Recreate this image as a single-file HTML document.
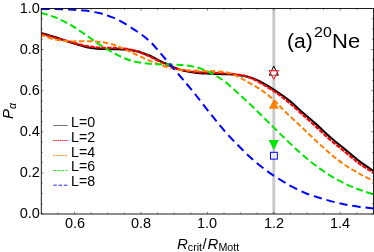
<!DOCTYPE html>
<html><head><meta charset="utf-8"><title>chart</title>
<style>
html,body{margin:0;padding:0;background:#fff;}
body{width:374px;height:252px;position:relative;overflow:hidden;font-family:"Liberation Sans",sans-serif;color:#000;}
.t{position:absolute;white-space:nowrap;line-height:1;will-change:transform;}
.r{text-align:right;}
</style></head><body>
<svg width="374" height="252" viewBox="0 0 374 252" style="position:absolute;left:0;top:0">
<rect x="0" y="0" width="374" height="252" fill="#fff"/>
<clipPath id="c"><rect x="41.3" y="8.0" width="332.7" height="206.5"/></clipPath>
<line x1="273.8" y1="8.5" x2="273.8" y2="214.0" stroke="#c9c9c9" stroke-width="2.9"/>
<g clip-path="url(#c)" fill="none" stroke-linecap="butt" stroke-linejoin="round">
<path d="M41.40,33.00C43.67,33.68 50.23,35.55 55.00,37.10C59.77,38.65 65.00,40.70 70.00,42.30C75.00,43.90 81.25,45.73 85.00,46.70C88.75,47.67 90.00,47.73 92.50,48.10C95.00,48.47 96.25,48.73 100.00,48.90C103.75,49.07 110.83,49.00 115.00,49.10C119.17,49.20 121.67,49.20 125.00,49.50C128.33,49.80 132.08,50.33 135.00,50.90C137.92,51.47 140.00,52.08 142.50,52.90C145.00,53.72 146.25,54.07 150.00,55.80C153.75,57.53 160.00,60.98 165.00,63.30C170.00,65.62 175.00,68.15 180.00,69.70C185.00,71.25 190.00,71.95 195.00,72.60C200.00,73.25 205.00,73.33 210.00,73.60C215.00,73.87 220.83,74.00 225.00,74.20C229.17,74.40 231.67,74.48 235.00,74.80C238.33,75.12 242.08,75.53 245.00,76.10C247.92,76.67 250.00,77.30 252.50,78.20C255.00,79.10 256.25,79.47 260.00,81.50C263.75,83.53 270.00,87.13 275.00,90.40C280.00,93.67 285.83,97.80 290.00,101.10C294.17,104.40 295.83,106.53 300.00,110.20C304.17,113.87 310.00,118.63 315.00,123.10C320.00,127.57 325.00,132.63 330.00,137.00C335.00,141.37 340.00,145.20 345.00,149.30C350.00,153.40 355.23,157.98 360.00,161.60C364.77,165.22 371.33,169.43 373.60,171.00" stroke="#000000" stroke-width="2.1"/>
<path d="M41.40,33.90C43.67,34.53 50.23,36.38 55.00,37.70C59.77,39.02 65.00,40.45 70.00,41.80C75.00,43.15 80.00,44.83 85.00,45.80C90.00,46.77 95.00,47.25 100.00,47.60C105.00,47.95 110.83,47.72 115.00,47.90C119.17,48.08 121.67,48.23 125.00,48.70C128.33,49.17 132.08,49.92 135.00,50.70C137.92,51.48 140.00,52.40 142.50,53.40C145.00,54.40 146.25,54.93 150.00,56.70C153.75,58.47 160.00,61.87 165.00,64.00C170.00,66.13 175.00,68.18 180.00,69.50C185.00,70.82 190.00,71.35 195.00,71.90C200.00,72.45 205.00,72.55 210.00,72.80C215.00,73.05 220.83,73.17 225.00,73.40C229.17,73.63 231.67,73.77 235.00,74.20C238.33,74.63 242.08,75.23 245.00,76.00C247.92,76.77 250.00,77.68 252.50,78.80C255.00,79.92 256.25,80.52 260.00,82.70C263.75,84.88 270.50,88.88 275.00,91.90C279.50,94.92 282.83,97.38 287.00,100.80C291.17,104.22 295.33,108.23 300.00,112.40C304.67,116.57 310.00,121.27 315.00,125.80C320.00,130.33 325.00,135.27 330.00,139.60C335.00,143.93 340.23,147.90 345.00,151.80C349.77,155.70 353.83,159.50 358.60,163.00C363.37,166.50 371.10,171.17 373.60,172.80" stroke="#ff0000" stroke-width="2.2" stroke-dasharray="4.5 1.1" stroke-dashoffset="0"/>
<path d="M41.40,35.20C43.67,35.92 50.23,38.48 55.00,39.50C59.77,40.52 65.00,41.02 70.00,41.30C75.00,41.58 80.00,41.10 85.00,41.20C90.00,41.30 95.00,41.23 100.00,41.90C105.00,42.57 110.83,43.93 115.00,45.20C119.17,46.47 121.67,48.03 125.00,49.50C128.33,50.97 130.83,52.10 135.00,54.00C139.17,55.90 145.00,58.82 150.00,60.90C155.00,62.98 160.00,65.02 165.00,66.50C170.00,67.98 175.00,69.12 180.00,69.80C185.00,70.48 190.00,70.40 195.00,70.60C200.00,70.80 205.00,70.77 210.00,71.00C215.00,71.23 221.25,71.47 225.00,72.00C228.75,72.53 230.00,73.28 232.50,74.20C235.00,75.12 237.92,76.45 240.00,77.50C242.08,78.55 241.67,78.57 245.00,80.50C248.33,82.43 255.28,85.93 260.00,89.10C264.72,92.27 269.13,95.77 273.30,99.50C277.47,103.23 280.55,107.17 285.00,111.50C289.45,115.83 295.00,120.78 300.00,125.50C305.00,130.22 310.00,135.15 315.00,139.80C320.00,144.45 325.25,149.37 330.00,153.40C334.75,157.43 338.67,160.65 343.50,164.00C348.33,167.35 353.98,170.68 359.00,173.50C364.02,176.32 371.17,179.67 373.60,180.90" stroke="#ff8000" stroke-width="2.0" stroke-dasharray="5.4 2.6" stroke-dashoffset="1.6"/>
<path d="M41.40,13.00C43.67,13.72 50.23,15.37 55.00,17.30C59.77,19.23 65.00,21.75 70.00,24.60C75.00,27.45 80.00,31.02 85.00,34.40C90.00,37.78 95.00,41.68 100.00,44.90C105.00,48.12 110.83,51.45 115.00,53.70C119.17,55.95 121.67,57.07 125.00,58.40C128.33,59.73 130.83,60.80 135.00,61.70C139.17,62.60 145.00,63.35 150.00,63.80C155.00,64.25 160.00,64.22 165.00,64.40C170.00,64.58 175.00,64.48 180.00,64.90C185.00,65.32 190.00,65.63 195.00,66.90C200.00,68.17 205.00,70.02 210.00,72.50C215.00,74.98 220.00,78.05 225.00,81.80C230.00,85.55 235.00,90.47 240.00,95.00C245.00,99.53 250.00,104.20 255.00,109.00C260.00,113.80 265.00,118.88 270.00,123.80C275.00,128.72 280.00,133.70 285.00,138.50C290.00,143.30 295.17,148.32 300.00,152.60C304.83,156.88 309.17,160.50 314.00,164.20C318.83,167.90 324.00,171.65 329.00,174.80C334.00,177.95 339.00,180.65 344.00,183.10C349.00,185.55 354.07,187.62 359.00,189.50C363.93,191.38 371.17,193.58 373.60,194.40" stroke="#00e600" stroke-width="2.0" stroke-dasharray="7.1 3.5" stroke-dashoffset="0.6"/>
<path d="M41.40,9.00C43.67,9.02 50.23,9.03 55.00,9.10C59.77,9.17 65.00,9.15 70.00,9.40C75.00,9.65 80.00,9.95 85.00,10.60C90.00,11.25 95.83,12.32 100.00,13.30C104.17,14.28 106.67,15.23 110.00,16.50C113.33,17.77 115.83,18.63 120.00,20.90C124.17,23.17 130.00,26.67 135.00,30.10C140.00,33.53 145.00,36.77 150.00,41.50C155.00,46.23 160.00,52.75 165.00,58.50C170.00,64.25 176.17,71.50 180.00,76.00C183.83,80.50 185.50,82.50 188.00,85.50C190.50,88.50 191.33,89.38 195.00,94.00C198.67,98.62 205.00,106.95 210.00,113.20C215.00,119.45 220.00,125.82 225.00,131.50C230.00,137.18 235.00,142.30 240.00,147.30C245.00,152.30 250.00,157.20 255.00,161.50C260.00,165.80 265.00,169.57 270.00,173.10C275.00,176.63 281.67,180.62 285.00,182.70C288.33,184.78 286.67,183.88 290.00,185.60C293.33,187.32 300.00,190.93 305.00,193.00C310.00,195.07 315.00,196.47 320.00,198.00C325.00,199.53 330.63,201.08 335.00,202.20C339.37,203.32 342.03,203.92 346.20,204.70C350.37,205.48 355.43,206.28 360.00,206.90C364.57,207.52 371.33,208.15 373.60,208.40" stroke="#0000ff" stroke-width="2.0" stroke-dasharray="8.4 4.87" stroke-dashoffset="0"/>
</g>
<rect x="41.3" y="8.5" width="332.2" height="205.5" fill="none" stroke="#111" stroke-width="0.95"/>
<path d="M41.30,214.0v-1.4M41.30,8.5v1.4M57.91,214.0v-1.4M57.91,8.5v1.4M74.52,214.0v-2.1M74.52,8.5v2.1M91.13,214.0v-1.4M91.13,8.5v1.4M107.74,214.0v-1.4M107.74,8.5v1.4M124.35,214.0v-1.4M124.35,8.5v1.4M140.96,214.0v-2.1M140.96,8.5v2.1M157.57,214.0v-1.4M157.57,8.5v1.4M174.18,214.0v-1.4M174.18,8.5v1.4M190.79,214.0v-1.4M190.79,8.5v1.4M207.40,214.0v-2.1M207.40,8.5v2.1M224.01,214.0v-1.4M224.01,8.5v1.4M240.62,214.0v-1.4M240.62,8.5v1.4M257.23,214.0v-1.4M257.23,8.5v1.4M273.84,214.0v-2.1M273.84,8.5v2.1M290.45,214.0v-1.4M290.45,8.5v1.4M307.06,214.0v-1.4M307.06,8.5v1.4M323.67,214.0v-1.4M323.67,8.5v1.4M340.28,214.0v-2.1M340.28,8.5v2.1M356.89,214.0v-1.4M356.89,8.5v1.4M373.50,214.0v-1.4M373.50,8.5v1.4M41.3,214.00h2.1M373.5,214.00h-2.1M41.3,203.72h1.4M373.5,203.72h-1.4M41.3,193.45h1.4M373.5,193.45h-1.4M41.3,183.18h1.4M373.5,183.18h-1.4M41.3,172.90h2.1M373.5,172.90h-2.1M41.3,162.62h1.4M373.5,162.62h-1.4M41.3,152.35h1.4M373.5,152.35h-1.4M41.3,142.07h1.4M373.5,142.07h-1.4M41.3,131.80h2.1M373.5,131.80h-2.1M41.3,121.52h1.4M373.5,121.52h-1.4M41.3,111.25h1.4M373.5,111.25h-1.4M41.3,100.97h1.4M373.5,100.97h-1.4M41.3,90.70h2.1M373.5,90.70h-2.1M41.3,80.42h1.4M373.5,80.42h-1.4M41.3,70.15h1.4M373.5,70.15h-1.4M41.3,59.88h1.4M373.5,59.88h-1.4M41.3,49.60h2.1M373.5,49.60h-2.1M41.3,39.32h1.4M373.5,39.32h-1.4M41.3,29.05h1.4M373.5,29.05h-1.4M41.3,18.77h1.4M373.5,18.77h-1.4M41.3,8.50h2.1M373.5,8.50h-2.1" stroke="#222" stroke-width="0.6" fill="none"/>
<path d="M273.8,66.1 L278.3,75.2 L269.3,75.2Z" fill="#fff" fill-opacity="0.5" stroke="#000" stroke-width="1"/>
<path d="M273.8,79.2 L278.5,70.7 L269.1,70.7Z" fill="#fff" fill-opacity="0.5" stroke="#f00" stroke-width="1"/>
<path d="M273.9,99.6 L278.9,108.7 L268.9,108.7Z" fill="#ff8000"/>
<path d="M273.8,150 L278.9,140 L268.7,140Z" fill="#00e600"/>
<rect x="270.5" y="152.3" width="6.8" height="6.8" fill="#fff" fill-opacity="0.55" stroke="#0000ff" stroke-width="1"/>
<line x1="53.3" y1="125.5" x2="67.6" y2="125.5" stroke="#555" stroke-width="0.85"/>
<line x1="53.3" y1="140.5" x2="67.6" y2="140.5" stroke="#ff0000" stroke-width="0.85" stroke-dasharray="1.6 0.5"/>
<line x1="53.3" y1="155.5" x2="67.6" y2="155.5" stroke="#ff8000" stroke-width="0.85" stroke-dasharray="1.7 0.7"/>
<line x1="53.3" y1="170.5" x2="67.6" y2="170.5" stroke="#00e600" stroke-width="0.85" stroke-dasharray="2.8 1.2"/>
<line x1="53.3" y1="185.2" x2="67.6" y2="185.2" stroke="#0000ff" stroke-width="0.85" stroke-dasharray="3.5 1.8"/>
</svg>
<div class="t r" style="left:0px;width:39.9px;top:206.43px;font-size:14.5px">0.0</div>
<div class="t r" style="left:0px;width:39.9px;top:165.33px;font-size:14.5px">0.2</div>
<div class="t r" style="left:0px;width:39.9px;top:124.23px;font-size:14.5px">0.4</div>
<div class="t r" style="left:0px;width:39.9px;top:83.13px;font-size:14.5px">0.6</div>
<div class="t r" style="left:0px;width:39.9px;top:42.03px;font-size:14.5px">0.8</div>
<div class="t r" style="left:0px;width:39.9px;top:0.93px;font-size:14.5px">1.0</div>
<div class="t" style="left:54.52px;width:40px;text-align:center;top:215.93px;font-size:14.5px">0.6</div>
<div class="t" style="left:120.96px;width:40px;text-align:center;top:215.93px;font-size:14.5px">0.8</div>
<div class="t" style="left:187.40px;width:40px;text-align:center;top:215.93px;font-size:14.5px">1.0</div>
<div class="t" style="left:253.84px;width:40px;text-align:center;top:215.93px;font-size:14.5px">1.2</div>
<div class="t" style="left:320.28px;width:40px;text-align:center;top:215.93px;font-size:14.5px">1.4</div>
<div class="t" style="left:70.9px;top:114.98px;font-size:14.2px">L=0</div>
<div class="t" style="left:70.9px;top:129.78px;font-size:14.2px">L=2</div>
<div class="t" style="left:70.9px;top:144.58px;font-size:14.2px">L=4</div>
<div class="t" style="left:70.9px;top:159.38px;font-size:14.2px">L=6</div>
<div class="t" style="left:70.9px;top:174.18px;font-size:14.2px">L=8</div>
<div class="t" style="left:287.2px;top:31.17px;font-size:20px;transform-origin:0 0;transform:scaleX(1.05)">(a)</div>
<div class="t" style="left:313.9px;top:24.26px;font-size:15.4px;transform-origin:0 0;transform:scaleX(1.04)">20</div>
<div class="t" style="left:331.6px;top:31.17px;font-size:20px;transform-origin:0 0;transform:scaleX(1.10)">Ne</div>
<div class="t" style="left:177.0px;top:235.50px;font-size:15px"><i>R</i><span style="font-size:10.7px;position:relative;top:2.4px">crit</span><span style="margin:0 0.9px 0 0.4px">/</span><i>R</i><span style="font-size:10.7px;position:relative;top:2.4px">Mott</span></div>
<div class="t" style="left:0.20px;top:119.0px;font-size:15px;transform-origin:0 0;transform:rotate(-90deg);"><i>P</i><span style="font-size:10.7px;position:relative;top:2.8px"><i>&alpha;</i></span></div>
</body></html>
